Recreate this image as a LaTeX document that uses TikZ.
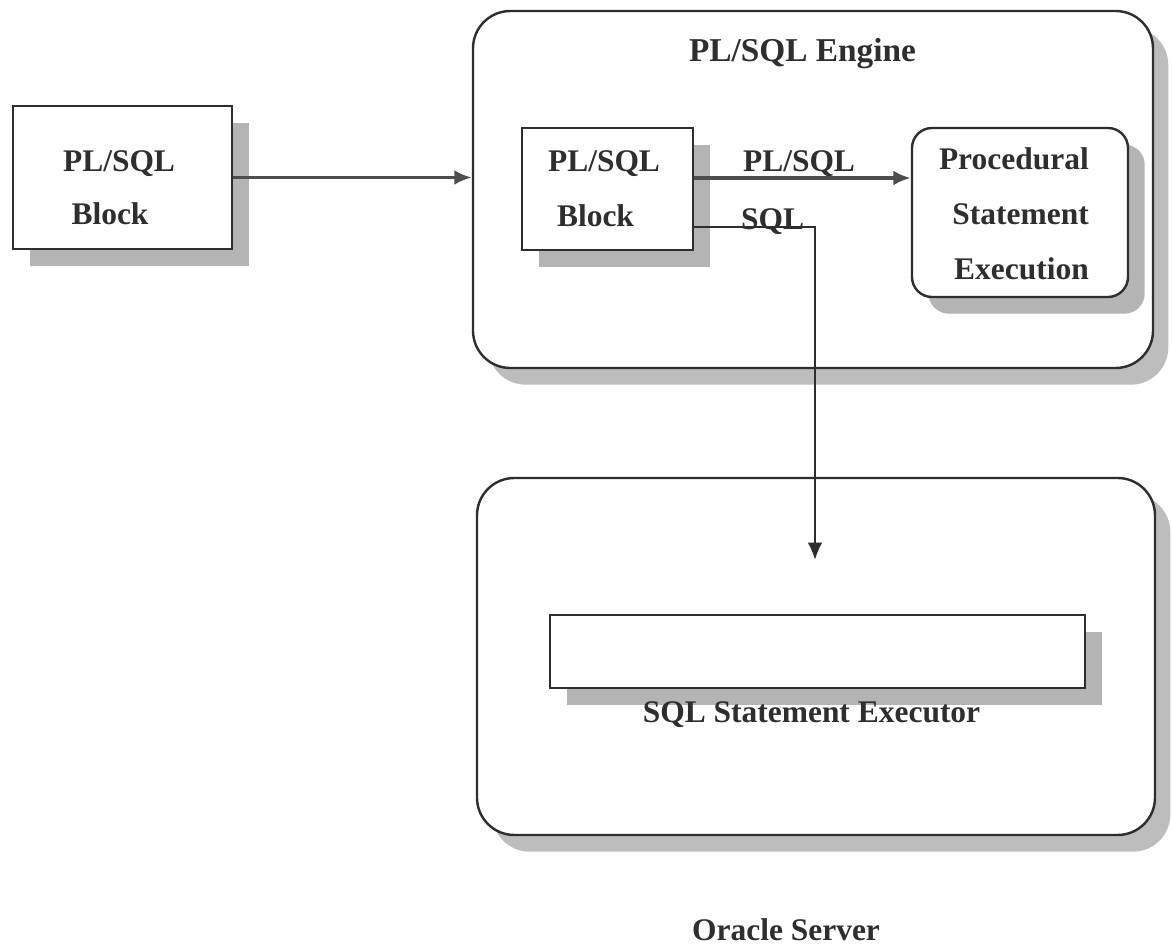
\documentclass[tikz,border=0pt]{standalone}
\usepackage{fontspec}
\setmainfont{Liberation Serif}
\usetikzlibrary{arrows.meta,shadows,calc}
\definecolor{ink}{HTML}{2E2E2E}
\definecolor{shade}{HTML}{B4B4B4}
\definecolor{shadelt}{HTML}{BDBDBD}
\tikzset{
  box/.style={draw=ink, line width=1.8pt, fill=white, inner sep=0pt},
  sbox/.style={box, general shadow={fill=shade, shadow xshift=12.5pt, shadow yshift=-12.5pt}},
  bigbox/.style={box, rounded corners=28pt, general shadow={fill=shadelt, shadow xshift=11.5pt, shadow yshift=-12.5pt}},
  txt/.style={anchor=base, inner sep=0pt, text=ink, font=\bfseries\fontsize{23.6}{28}\selectfont},
  arr/.style={draw=ink!85, line width=2.4pt, -{Latex[length=13pt,width=11pt]}},
  sqlarr/.style={draw=ink, line width=1.7pt, -{Latex[length=13pt,width=11pt]}}
}
\begin{document}
\begin{tikzpicture}[x=0.75pt,y=-0.75pt]
\useasboundingbox[fill=white] (0,0) rectangle (1172,945);

% outer containers
\node[bigbox, minimum width=510pt, minimum height=267.75pt] (eng) at (813,189.5) {};
\node[bigbox, minimum width=508.5pt, minimum height=267.75pt] (srv) at (816,656.5) {};

% boxes
\node[sbox, minimum width=164.25pt, minimum height=107.25pt] (lb) at (122.5,177.5) {};
\node[sbox, minimum width=128.25pt, minimum height=91.5pt] (ib) at (607.5,189) {};
\node[sbox, rounded corners=15pt, minimum width=162pt, minimum height=126.75pt] (proc) at (1020,212.5) {};
\node[sbox, minimum width=401.25pt, minimum height=54.75pt] (exe) at (817.5,651.5) {};

% texts
\node[txt] (lb1) at (119,172) {PL/SQL};
\node[txt] (lb2) at (110,225) {Block};
\node[txt, font=\bfseries\fontsize{25}{30}\selectfont] (engt) at (802.5,62) {PL/SQL Engine};
\node[txt] (ib1) at (604,172) {PL/SQL};
\node[txt] (ib2) at (595.5,227) {Block};
\node[txt, anchor=base east] (pr1) at (1089,170) {Procedural};
\node[txt, anchor=base east] (pr2) at (1089,225) {Statement};
\node[txt, anchor=base east] (pr3) at (1089,280) {Execution};
\node[txt] (exet) at (811.5,722) {SQL Statement Executor};
\node[txt] (srvt) at (786,940) {Oracle Server};

% connectors
\coordinate (sqlend) at (815,560);
\draw[arr] (lb.east) -- (lb.east -| eng.west);
\draw[arr] ([yshift=8.25pt]ib.east) -- ([yshift=8.25pt]ib.east -| proc.west);
\draw[sqlarr] ([yshift=-28.5pt]ib.east) -| (sqlend);

% connector labels
\node[txt] (lpl) at (799,172) {PL/SQL};
\node[txt] (lsql) at (772.5,230) {SQL};
\end{tikzpicture}
\end{document}
